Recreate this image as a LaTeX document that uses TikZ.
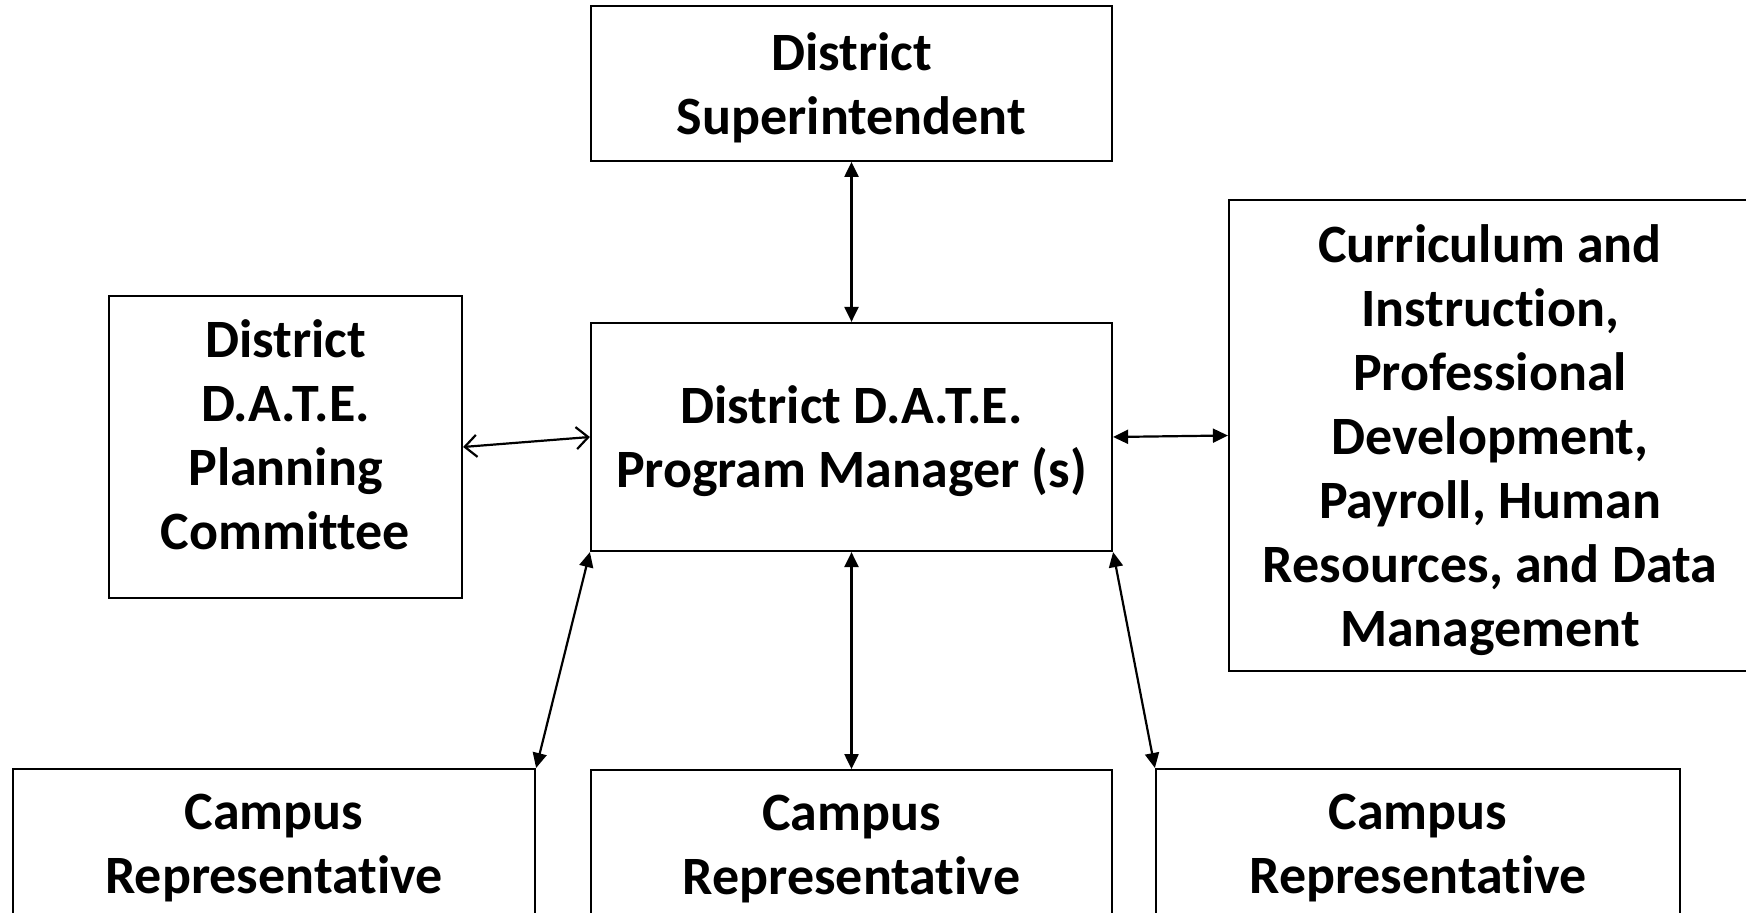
\documentclass[tikz,border=0pt]{standalone}
\usepackage{fontspec}
\setmainfont{Carlito}[Ligatures=NoCommon]
\usetikzlibrary{positioning,arrows.meta}

\begin{document}
\begin{tikzpicture}[x=0.5pt,y=-0.5pt,
  box/.style={draw,line width=1.1pt,align=center,inner sep=0pt,
    font=\fontsize{27}{32}\selectfont\bfseries,text depth=0pt},
  link/.style={line width=1.1pt,
    {Triangle[length=7.5pt,width=7pt]}-{Triangle[length=7.5pt,width=7pt]}},
  % open heads for the committee link
  openlink/.style={line width=1.1pt,
    {Straight Barb[length=6pt,width=11pt]}-{Straight Barb[length=6pt,width=11pt]}}]
\useasboundingbox (0,0) rectangle (1746,913);
\node[box,minimum width=260.5pt,minimum height=114pt] (prog-mgr) at (851.5,437)
  {District D.A.T.E.\\Program Manager (s)};
\node[box,minimum width=260.5pt,minimum height=77.5pt,above=80pt of prog-mgr] (dist-sup)
  {District\\Superintendent};
\node[box,minimum width=176.5pt,minimum height=151pt,text depth=12.5pt] (plan-comm) at (285.5,447)
  {District\\D.A.T.E.\\Planning\\Committee};
\node[box,minimum width=261pt,minimum height=235.5pt] (cur-inst) at (1490,435.5)
  {Curriculum and\\Instruction,\\Professional\\Development,\\Payroll, Human\\Resources, and Data\\Management};
\node[box,minimum width=260.5pt,minimum height=75pt,below=108.5pt of prog-mgr] (campus-m)
  {Campus\\Representative};
\node[box,minimum width=261pt,minimum height=75pt,anchor=north] (campus-l) at (274,768)
  {Campus\\Representative};
\node[box,minimum width=262pt,minimum height=75pt,anchor=north] (campus-r) at (1418,768)
  {Campus\\Representative};
\draw[link] (prog-mgr.north) -- (dist-sup.south);
\draw[openlink] (plan-comm.east) -- (prog-mgr.west);
\draw[link] (prog-mgr.east) -- (cur-inst.west);
\draw[link] (prog-mgr.south west) -- (campus-l.north east);
\draw[link] (prog-mgr.south) -- (campus-m.north);
\draw[link] (prog-mgr.south east) -- (campus-r.north west);
\end{tikzpicture}
\end{document}
